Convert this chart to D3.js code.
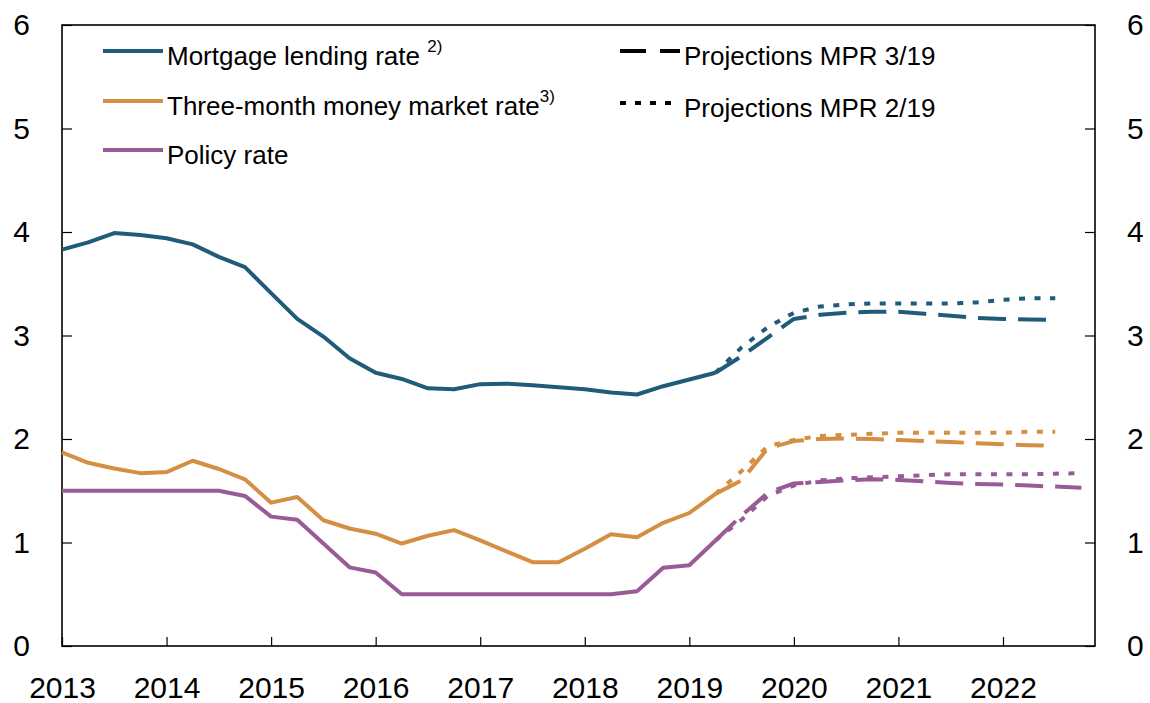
<!DOCTYPE html>
<html>
<head>
<meta charset="utf-8">
<script src="https://cdn.jsdelivr.net/npm/d3@7"></script>
<style>
  body { margin: 0; background: #fff; }
  svg text { font-family: "Liberation Sans", Arial, Helvetica, sans-serif; fill: #000; }
</style>
</head>
<body>
<svg class="chart--svg" width="1150" height="703"></svg>
<script>
(function () {
'use strict';

// quarterly observations, 2013Q1 - 2019Q2
var actualQuarters = ["2013Q1","2013Q2","2013Q3","2013Q4","2014Q1","2014Q2","2014Q3","2014Q4",
    "2015Q1","2015Q2","2015Q3","2015Q4","2016Q1","2016Q2","2016Q3","2016Q4",
    "2017Q1","2017Q2","2017Q3","2017Q4","2018Q1","2018Q2","2018Q3","2018Q4",
    "2019Q1","2019Q2"];
var mortgageActual = [3.83, 3.90, 3.99, 3.97, 3.94, 3.88, 3.76, 3.66, 3.41, 3.16, 2.99, 2.78, 2.64,
    2.58, 2.49, 2.48, 2.53, 2.535, 2.52, 2.50, 2.48, 2.45, 2.43, 2.51, 2.575, 2.64];
var moneyMarketActual = [1.87, 1.77, 1.715, 1.67, 1.68, 1.79, 1.71, 1.61, 1.385, 1.44, 1.215, 1.135, 1.085,
    0.99, 1.065, 1.12, 1.02, 0.915, 0.81, 0.81, 0.94, 1.08, 1.05, 1.19, 1.285, 1.47];
var policyActual = [1.5, 1.5, 1.5, 1.5, 1.5, 1.5, 1.5, 1.45, 1.25, 1.22, 0.99, 0.76, 0.71,
    0.5, 0.5, 0.5, 0.5, 0.5, 0.5, 0.5, 0.5, 0.5, 0.53, 0.755, 0.78, 1.02];

// projections, 2019Q2 - 2022Q4
var projQuarters = ["2019Q2","2019Q3","2019Q4","2020Q1","2020Q2","2020Q3","2020Q4","2021Q1",
    "2021Q2","2021Q3","2021Q4","2022Q1","2022Q2","2022Q3","2022Q4"];
var mortgageMpr319 = [2.64, 2.80, 2.98, 3.16, 3.20, 3.22, 3.23, 3.23, 3.21, 3.19, 3.17, 3.16, 3.155, 3.15];
var mortgageMpr219 = [2.64, 2.885, 3.08, 3.22, 3.28, 3.30, 3.31, 3.31, 3.31, 3.31, 3.32, 3.345, 3.36, 3.36];
var moneyMarketMpr319 = [1.47, 1.60, 1.91, 1.98, 2.00, 2.005, 2.00, 1.99, 1.98, 1.97, 1.96, 1.95, 1.94, 1.935];
var moneyMarketMpr219 = [1.47, 1.69, 1.93, 1.99, 2.03, 2.04, 2.05, 2.06, 2.06, 2.06, 2.06, 2.06, 2.07, 2.07];
var policyMpr319 = [1.02, 1.26, 1.48, 1.57, 1.585, 1.60, 1.61, 1.605, 1.59, 1.575, 1.565, 1.56, 1.55, 1.54, 1.53];
var policyMpr219 = [1.02, 1.22, 1.45, 1.55, 1.60, 1.62, 1.63, 1.64, 1.65, 1.66, 1.66, 1.66, 1.66, 1.665, 1.67];

var yearTicks = [2013, 2014, 2015, 2016, 2017, 2018, 2019, 2020, 2021, 2022];
var valueTicks = [0, 1, 2, 3, 4, 5, 6];

var BLUE = "#215b7a";
var ORANGE = "#d48f42";
var PURPLE = "#985b98";
var DASH = "28 12";
var DOT = "6 9.5";

var svg = d3.select(".chart--svg");
var left = 62, right = 1095, top = 25, bottom = 646;

function quarterToYear(q) {
    return +q.slice(0, 4) + (+q.slice(5) - 1) / 4;
}

var x = d3.scaleLinear().domain([2013, 2022.88]).range([left, right]);
var y = d3.scaleLinear().domain([0, 6]).range([bottom, top]);

var line = d3.line()
    .x(function (d) { return x(quarterToYear(d[0])); })
    .y(function (d) { return y(d[1]); });

function drawSeries(quarters, values, color, dash) {
    var pts = values.map(function (v, i) { return [quarters[i], v]; });
    svg.append("path")
        .datum(pts)
        .attr("d", line)
        .attr("fill", "none")
        .attr("stroke", color)
        .attr("stroke-width", 4)
        .attr("stroke-linejoin", "round")
        .attr("stroke-dasharray", dash);
}

// axes
var leftAxis = d3.axisLeft(y).tickValues(valueTicks).tickSize(-10).tickPadding(32)
    .tickFormat(d3.format("d"));
var rightAxis = d3.axisRight(y).tickValues(valueTicks).tickSize(-10).tickPadding(32)
    .tickFormat(d3.format("d"));
var bottomAxis = d3.axisBottom(x).tickValues(yearTicks).tickSize(-9).tickPadding(31)
    .tickFormat(d3.format("d"));

function styleAxis(g) {
    g.select(".domain").remove();
    g.selectAll("line").attr("stroke", "#000").attr("stroke-width", 1.2);
    g.selectAll("text").style("font-size", "30px");
}

svg.append("g").attr("transform", "translate(" + left + ",0)").call(leftAxis).call(styleAxis);
svg.append("g").attr("transform", "translate(" + right + ",0)").call(rightAxis).call(styleAxis);
svg.append("g").attr("transform", "translate(0," + bottom + ")").call(bottomAxis).call(styleAxis);
svg.selectAll("g text").attr("font-family", null);

svg.append("rect")
    .attr("x", left).attr("y", top)
    .attr("width", right - left).attr("height", bottom - top)
    .attr("fill", "none")
    .attr("stroke", "#000")
    .attr("stroke-width", 1.6);

// series
drawSeries(projQuarters, mortgageMpr319, BLUE, DASH);
drawSeries(projQuarters, moneyMarketMpr319, ORANGE, DASH);
drawSeries(projQuarters, policyMpr319, PURPLE, DASH);
drawSeries(projQuarters, mortgageMpr219, BLUE, DOT);
drawSeries(projQuarters, moneyMarketMpr219, ORANGE, DOT);
drawSeries(projQuarters, policyMpr219, PURPLE, DOT);
drawSeries(actualQuarters, mortgageActual, BLUE, null);
drawSeries(actualQuarters, moneyMarketActual, ORANGE, null);
drawSeries(actualQuarters, policyActual, PURPLE, null);

// legend
var legendItems = [
    { x: 103, y: 51, color: BLUE, dash: null, text: "Mortgage lending rate ", sup: "2)" },
    { x: 103, y: 101, color: ORANGE, dash: null, text: "Three-month money market rate", sup: "3)" },
    { x: 103, y: 150, color: PURPLE, dash: null, text: "Policy rate", sup: "" },
    { x: 620, y: 51, color: "#000", dash: "26 14", text: "Projections MPR 3/19", sup: "" },
    { x: 620, y: 103, color: "#000", dash: "6 9", text: "Projections MPR 2/19", sup: "" }
];

legendItems.forEach(function (item) {
    svg.append("line")
        .attr("x1", item.x).attr("x2", item.x + 60)
        .attr("y1", item.y).attr("y2", item.y)
        .attr("stroke", item.color)
        .attr("stroke-width", 4)
        .attr("stroke-dasharray", item.dash);
    var t = svg.append("text")
        .attr("x", item.x + 64)
        .attr("y", item.y + 14)
        .style("font-size", "26px")
        .text(item.text);
    if (item.sup) {
        t.append("tspan")
            .attr("dy", -13)
            .style("font-size", "17px")
            .text(item.sup);
    }
});
})();
</script>
</body>
</html>
